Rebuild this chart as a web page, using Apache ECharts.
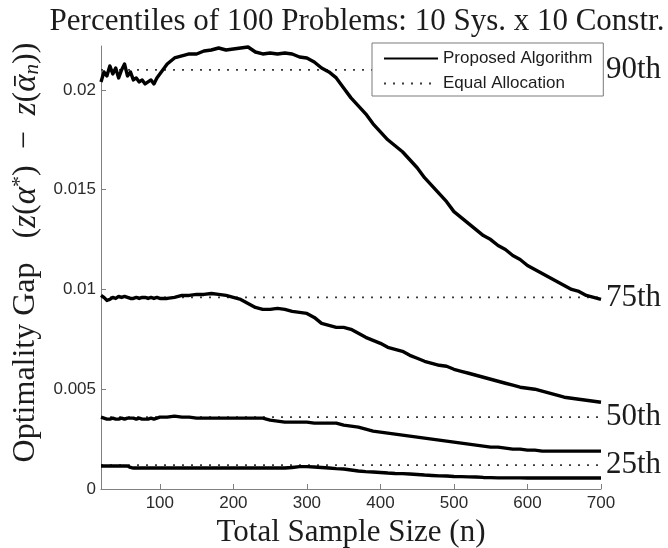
<!DOCTYPE html>
<html>
<head>
<meta charset="utf-8">
<script src="https://cdn.jsdelivr.net/npm/echarts@6/dist/echarts.min.js"></script>
<style>
  html, body { margin: 0; padding: 0; background: #fff; }
  #chart { width: 668px; height: 548px; }
</style>
</head>
<body>
<div id="chart"></div>
<script>
// Total sample size n at which each percentile curve is recorded
const sampleSize = [
  20, 24, 28, 32, 36, 40, 44, 48, 52, 56, 60, 64, 68, 72, 76, 80, 84, 88, 92, 96, 100,
  110, 120, 130, 140, 150, 160, 170, 180, 190, 200, 210, 220, 230, 240, 250, 260, 270, 280, 290,
  300, 310, 320, 330, 340, 350, 360, 370, 380, 390, 400, 410, 420, 430, 440, 450, 460, 470, 480, 490,
  500, 510, 520, 530, 540, 550, 560, 570, 580, 590, 600, 610, 620, 630, 640, 650, 660, 670, 680, 690, 700
];

// Optimality gap of the proposed algorithm, per percentile
const proposed90 = [
  0.0204, 0.0209, 0.0207, 0.0212, 0.0208, 0.0211, 0.0206, 0.0210, 0.0213, 0.0207, 0.0209, 0.0205, 0.0206, 0.0204, 0.0205, 0.0203, 0.0204, 0.0205, 0.0203, 0.0206, 0.0208,
  0.0213, 0.0216, 0.0217, 0.0218, 0.0218, 0.02195, 0.0220, 0.0221, 0.0220, 0.02205, 0.0221, 0.02215, 0.0219, 0.0218, 0.02185, 0.0218, 0.02185, 0.0218, 0.02165,
  0.0216, 0.0214, 0.0211, 0.0209, 0.0206, 0.0201, 0.0196, 0.0192, 0.0188, 0.0183, 0.0179, 0.0175, 0.0172, 0.0169, 0.0165, 0.0161, 0.0156, 0.0152, 0.0148, 0.0144,
  0.0139, 0.0136, 0.0133, 0.0130, 0.0127, 0.0125, 0.0122, 0.0120, 0.0117, 0.0115, 0.0112, 0.0110, 0.0108, 0.0106, 0.0104, 0.0102, 0.0100, 0.0099, 0.0097, 0.0096, 0.0095
];
const proposed75 = [
  0.0097, 0.0096, 0.00945, 0.0095, 0.0096, 0.00955, 0.00965, 0.0096, 0.00965, 0.0096, 0.00955, 0.00955, 0.0096, 0.00955, 0.0096, 0.0096, 0.00955, 0.0096, 0.00955, 0.0096, 0.00955,
  0.00955, 0.0096, 0.0097, 0.0097, 0.00975, 0.00975, 0.0098, 0.00975, 0.0097, 0.0096, 0.0095, 0.0093, 0.0091, 0.0090, 0.0090, 0.00905, 0.0090, 0.0089, 0.00885,
  0.0088, 0.0086, 0.0083, 0.0082, 0.0081, 0.0081, 0.0080, 0.0078, 0.0076, 0.00745, 0.0073, 0.0071, 0.0070, 0.0069, 0.0067, 0.00655, 0.0064, 0.0063, 0.0062, 0.00615,
  0.0060, 0.0059, 0.0058, 0.0057, 0.0056, 0.0055, 0.0054, 0.0053, 0.0052, 0.0051, 0.00505, 0.0050, 0.0049, 0.0048, 0.0047, 0.0046, 0.00455, 0.0045, 0.00445, 0.0044, 0.00435
];
const proposed50 = [
  0.0036, 0.00355, 0.0035, 0.0035, 0.00355, 0.0035, 0.0035, 0.00355, 0.0035, 0.00355, 0.00355, 0.00355, 0.0035, 0.00355, 0.0035, 0.0035, 0.0035, 0.00355, 0.0035, 0.00355, 0.0036,
  0.0036, 0.00365, 0.0036, 0.0036, 0.00355, 0.00355, 0.00355, 0.00355, 0.00355, 0.00355, 0.00355, 0.00355, 0.00355, 0.00355, 0.00345, 0.0034, 0.00335, 0.00335, 0.00335,
  0.00335, 0.0033, 0.0033, 0.0033, 0.0033, 0.0032, 0.00315, 0.0031, 0.0030, 0.0029, 0.00285, 0.0028, 0.00275, 0.0027, 0.00265, 0.0026, 0.00255, 0.0025, 0.00245, 0.0024,
  0.00235, 0.0023, 0.00225, 0.0022, 0.00215, 0.0021, 0.0021, 0.00205, 0.0020, 0.0020, 0.00195, 0.00195, 0.0019, 0.0019, 0.0019, 0.0019, 0.0019, 0.0019, 0.0019, 0.0019, 0.0019
];
const proposed25 = [
  0.00115, 0.00115, 0.00115, 0.00115, 0.00115, 0.00115, 0.00115, 0.00115, 0.00115, 0.00115, 0.00108, 0.00105, 0.00105, 0.00105, 0.00105, 0.00105, 0.00105, 0.00105, 0.00105, 0.00105, 0.00105,
  0.00105, 0.00105, 0.00105, 0.00105, 0.00105, 0.00105, 0.00105, 0.00105, 0.00105, 0.00105, 0.00105, 0.00105, 0.00105, 0.00105, 0.00105, 0.00105, 0.00105, 0.00108, 0.00112,
  0.00112, 0.0011, 0.00108, 0.00105, 0.00102, 0.0010, 0.00095, 0.0009, 0.00087, 0.00085, 0.00083, 0.0008, 0.00078, 0.00077, 0.00075, 0.00073, 0.0007, 0.00068, 0.00066, 0.00065,
  0.00063, 0.00062, 0.00061, 0.0006, 0.00058, 0.00057, 0.00056, 0.00056, 0.00056, 0.00056, 0.00055, 0.00055, 0.00055, 0.00055, 0.00055, 0.00055, 0.00055, 0.00055, 0.00055, 0.00055, 0.00055
];

// Equal allocation: one constant gap per percentile
const equalGap = [0.021, 0.0096, 0.0036, 0.0012];
const percentileNames = ['90th', '75th', '50th', '25th'];
const proposedCurves = [proposed90, proposed75, proposed50, proposed25];

const xTicks = [100, 200, 300, 400, 500, 600, 700];
const yTicks = [0, 0.005, 0.01, 0.015, 0.02];

const serif = '"Liberation Serif", "DejaVu Serif", serif';
const sans = '"Liberation Sans", Arial, sans-serif';
const axisGray = '#808080';
const textDark = '#1c1c1c';

const series = [];
percentileNames.forEach(function (label, k) {
  series.push({
    name: 'Equal Allocation',
    type: 'line',
    symbol: 'none',
    z: 2,
    silent: true,
    itemStyle: { color: '#3a3a3a' },
    lineStyle: { color: '#3a3a3a', width: 1.8, type: [2, 7] },
    data: [[sampleSize[0], equalGap[k]], [sampleSize[sampleSize.length - 1], equalGap[k]]],
    endLabel: {
      show: true,
      formatter: label,
      distance: 5,
      fontFamily: serif,
      fontSize: 31,
      color: textDark
    }
  });
});
proposedCurves.forEach(function (values) {
  series.push({
    name: 'Proposed Algorithm',
    type: 'line',
    symbol: 'none',
    z: 3,
    silent: true,
    itemStyle: { color: '#000' },
    lineStyle: { color: '#000', width: 3.4, join: 'round' },
    data: sampleSize.map(function (n, i) { return [n, values[i]]; })
  });
});

const chart = echarts.init(document.getElementById('chart'), null, { renderer: 'canvas' });
chart.setOption({
  animation: false,
  backgroundColor: '#fff',
  title: {
    text: 'Percentiles of 100 Problems: 10 Sys. x 10 Constr.',
    left: 352,
    top: 1,
    textAlign: 'center',
    textStyle: { fontFamily: serif, fontSize: 31, fontWeight: 'normal', color: textDark }
  },
  legend: {
    data: ['Proposed Algorithm', 'Equal Allocation'],
    orient: 'vertical',
    left: 372,
    top: 43,
    padding: [7, 11, 4, 11],
    itemWidth: 54,
    itemHeight: 14,
    itemGap: 8,
    backgroundColor: '#fff',
    borderColor: '#7a7a7a',
    borderWidth: 1,
    selectedMode: false,
    itemStyle: { opacity: 0, borderWidth: 0 },
    textStyle: { fontFamily: sans, fontSize: 17, color: textDark }
  },
  grid: { left: 101, right: 67, top: 46, bottom: 59, outerBoundsMode: 'none' },
  xAxis: {
    type: 'value',
    min: 20,
    max: 700,
    name: 'Total Sample Size (n)',
    nameLocation: 'middle',
    nameGap: 26,
    nameTextStyle: { fontFamily: serif, fontSize: 31, color: textDark },
    axisLine: { onZero: false, lineStyle: { color: axisGray, width: 1 } },
    axisTick: { inside: true, length: 5, customValues: xTicks, lineStyle: { color: axisGray } },
    axisLabel: { customValues: xTicks, margin: 6, fontFamily: sans, fontSize: 17, color: '#2a2a2a' },
    splitLine: { show: false }
  },
  yAxis: {
    type: 'value',
    min: 0,
    max: 0.0222,
    name: '{p| }{t|Optimality Gap   (}{i|z}{t|(}{i|α}{s|*}{t|)  −  }{i|z}{t|(}{i|α\u0304}{b|n}{t|))}',
    nameLocation: 'middle',
    nameRotate: 90,
    nameGap: 58,
    nameTextStyle: {
      fontFamily: serif, fontSize: 31, color: textDark,
      rich: {
        p: { fontFamily: serif, fontSize: 31, width: 30 },
        t: { fontFamily: serif, fontSize: 32, color: textDark },
        i: { fontFamily: serif, fontSize: 33, fontStyle: 'italic', color: textDark },
        s: { fontFamily: serif, fontSize: 22, color: textDark, verticalAlign: 'top' },
        b: { fontFamily: serif, fontSize: 21, fontStyle: 'italic', color: textDark, verticalAlign: 'bottom' }
      }
    },
    axisLine: { show: true, lineStyle: { color: axisGray, width: 1 } },
    axisTick: { show: true, inside: true, length: 5, customValues: yTicks, lineStyle: { color: axisGray } },
    axisLabel: {
      customValues: yTicks,
      margin: 5,
      fontFamily: sans,
      fontSize: 17,
      color: '#2a2a2a',
      formatter: function (v) { return v === 0 ? '0' : String(v); }
    },
    splitLine: { show: false }
  },
  series: series
});
</script>
</body>
</html>
